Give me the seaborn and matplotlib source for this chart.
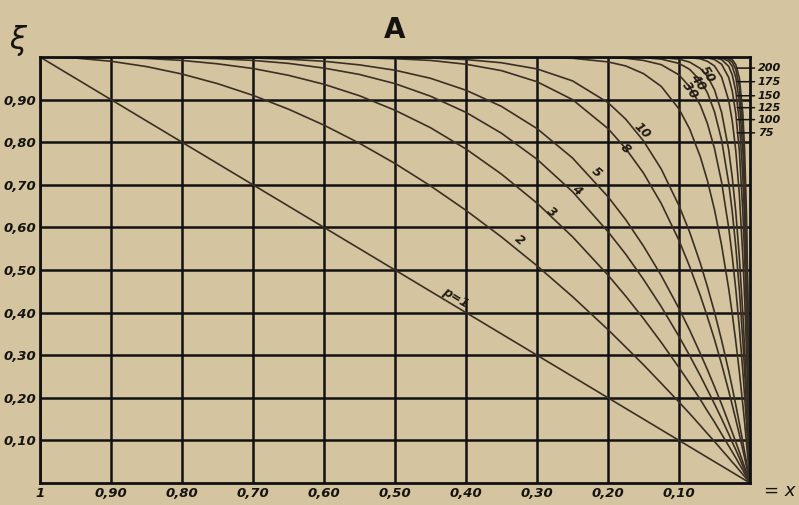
import matplotlib
matplotlib.use("Agg")
import matplotlib.pyplot as plt
import pandas as pd
import seaborn as sns

# x values read along the (reversed) horizontal axis
xs = [1.00, 0.95, 0.90, 0.85, 0.80, 0.75, 0.70, 0.65, 0.60, 0.55, 0.50, 0.45, 0.40, 0.35,
      0.30, 0.25, 0.20, 0.175, 0.15, 0.125, 0.10, 0.085, 0.07, 0.06, 0.05, 0.04, 0.03,
      0.025, 0.02, 0.015, 0.01, 0.0075, 0.005, 0.003, 0.002, 0.001, 0.00]

# xi at the xs above
p1 = list(xs)
p2 = [1.0, 0.9975, 0.99, 0.9775, 0.96, 0.9375, 0.91, 0.8775, 0.84, 0.7975, 0.75, 0.6975,
      0.64, 0.5775, 0.51, 0.4375, 0.36, 0.319, 0.2775, 0.234, 0.19, 0.163, 0.135, 0.116,
      0.0975, 0.078, 0.059, 0.049, 0.040, 0.030, 0.020, 0.015, 0.010, 0.006, 0.004, 0.002, 0.0]
p3 = [1.0, 1.0, 0.999, 0.9966, 0.992, 0.984, 0.973, 0.957, 0.936, 0.909, 0.875, 0.834,
      0.784, 0.725, 0.657, 0.578, 0.488, 0.4385, 0.386, 0.330, 0.271, 0.234, 0.196, 0.169,
      0.143, 0.115, 0.087, 0.073, 0.059, 0.044, 0.030, 0.022, 0.015, 0.009, 0.006, 0.003, 0.0]
p4 = [1.0, 1.0, 1.0, 0.9995, 0.998, 0.996, 0.992, 0.985, 0.974, 0.959, 0.9375, 0.908,
      0.870, 0.821, 0.760, 0.684, 0.590, 0.537, 0.478, 0.414, 0.344, 0.299, 0.252, 0.219,
      0.1855, 0.151, 0.115, 0.096, 0.078, 0.059, 0.039, 0.030, 0.020, 0.012, 0.008, 0.004, 0.0]
p5 = [1.0, 1.0, 1.0, 1.0, 0.9997, 0.999, 0.9976, 0.9947, 0.990, 0.9815, 0.969, 0.950,
      0.922, 0.884, 0.832, 0.763, 0.672, 0.618, 0.556, 0.487, 0.4095, 0.359, 0.304, 0.266,
      0.226, 0.185, 0.141, 0.119, 0.096, 0.073, 0.049, 0.037, 0.025, 0.015, 0.010, 0.005, 0.0]
p8 = [1.0] * 6 + [1.0, 0.9998, 0.9993, 0.998, 0.996, 0.992, 0.983, 0.968, 0.942, 0.900,
                  0.832, 0.785, 0.7275, 0.656, 0.5695, 0.508, 0.440, 0.390, 0.337, 0.279,
                  0.216, 0.183, 0.149, 0.114, 0.077, 0.0585, 0.039, 0.024, 0.016, 0.008, 0.0]
p10 = [1.0] * 8 + [1.0, 1.0, 0.999, 0.9975, 0.994, 0.9865, 0.972, 0.944, 0.893, 0.854,
                   0.803, 0.737, 0.651, 0.589, 0.516, 0.461, 0.401, 0.335, 0.263, 0.224,
                   0.183, 0.140, 0.096, 0.072, 0.049, 0.030, 0.020, 0.010, 0.0]
p20 = [1.0] * 14 + [0.999, 0.997, 0.9885, 0.979, 0.961, 0.931, 0.878, 0.831, 0.766, 0.710,
                    0.6415, 0.558, 0.456, 0.397, 0.332, 0.261, 0.182, 0.140, 0.095, 0.058,
                    0.039, 0.020, 0.0]
p30 = [1.0] * 16 + [0.9988, 0.997, 0.992, 0.982, 0.958, 0.930, 0.887, 0.844, 0.785, 0.706,
                    0.599, 0.532, 0.4545, 0.3645, 0.260, 0.202, 0.140, 0.086, 0.058, 0.030, 0.0]
p40 = [1.0] * 18 + [0.9985, 0.995, 0.985, 0.971, 0.945, 0.916, 0.8715, 0.805, 0.704, 0.637,
                    0.554, 0.454, 0.331, 0.260, 0.182, 0.113, 0.077, 0.039, 0.0]
p50 = [1.0] * 19 + [0.9987, 0.995, 0.988, 0.973, 0.955, 0.923, 0.870, 0.782, 0.718, 0.636,
                    0.530, 0.395, 0.3135, 0.222, 0.139, 0.095, 0.049, 0.0]
p75 = [1.0] * 20 + [0.9996, 0.9987, 0.9957, 0.990, 0.979, 0.953, 0.898, 0.850, 0.780, 0.678,
                    0.529, 0.431, 0.313, 0.2015, 0.139, 0.072, 0.0]
p100 = [1.0] * 22 + [0.9993, 0.998, 0.994, 0.983, 0.952, 0.920, 0.867, 0.779, 0.634, 0.529,
                     0.394, 0.259, 0.181, 0.095, 0.0]
p125 = [1.0] * 24 + [0.998, 0.994, 0.978, 0.958, 0.920, 0.849, 0.715, 0.610, 0.465, 0.313,
                     0.221, 0.1175, 0.0]
p150 = [1.0] * 24 + [0.9995, 0.998, 0.990, 0.978, 0.952, 0.896, 0.7785, 0.677, 0.5285, 0.363,
                     0.259, 0.139, 0.0]
p175 = [1.0] * 25 + [0.9992, 0.995, 0.988, 0.971, 0.929, 0.828, 0.732, 0.584, 0.409, 0.2955,
                     0.1606, 0.0]
p200 = [1.0] * 25 + [0.9997, 0.9977, 0.994, 0.982, 0.951, 0.866, 0.778, 0.633, 0.452, 0.330,
                     0.181, 0.0]

curves = {1: p1, 2: p2, 3: p3, 4: p4, 5: p5, 8: p8, 10: p10, 20: p20, 30: p30,
          40: p40, 50: p50, 75: p75, 100: p100, 125: p125, 150: p150, 175: p175, 200: p200}

xticks = [1.0, 0.9, 0.8, 0.7, 0.6, 0.5, 0.4, 0.3, 0.2, 0.1]
xtick_labels = ["1", "0,90", "0,80", "0,70", "0,60", "0,50", "0,40", "0,30", "0,20", "0,10"]
yticks = [0.1, 0.2, 0.3, 0.4, 0.5, 0.6, 0.7, 0.8, 0.9]
ytick_labels = ["0,10", "0,20", "0,30", "0,40", "0,50", "0,60", "0,70", "0,80", "0,90"]

rows = []
for p, ys in curves.items():
    for x, y in zip(xs, ys):
        rows.append((x, y, p))
df = pd.DataFrame(rows, columns=["x", "xi", "p"])

paper = "#d4c49f"
ink = "#3a2f24"

sns.set_theme(style="white", rc={"figure.facecolor": paper, "axes.facecolor": paper})
plt.rcParams["font.family"] = ["DejaVu Sans"]

fig = plt.figure(figsize=(7.99, 5.05), dpi=100)
ax = fig.add_axes([40 / 799, 1 - 483 / 505, 710 / 799, 426 / 505])

sns.lineplot(data=df, x="x", y="xi", units="p", estimator=None, sort=False,
             color=ink, linewidth=1.2, ax=ax)

ax.set_xlim(1, 0)
ax.set_ylim(0, 1)
ax.set_xticks(xticks)
ax.set_xticklabels(xtick_labels)
ax.set_yticks(yticks)
ax.set_yticklabels(ytick_labels)
ax.set_xlabel("")
ax.set_ylabel("")
ax.tick_params(length=0, pad=3, labelsize=9.5)
for lab in ax.get_xticklabels() + ax.get_yticklabels():
    lab.set_fontstyle("italic")
    lab.set_fontweight("bold")
    lab.set_color("#151310")
ax.grid(True, color="#111111", linewidth=1.8)
for s in ax.spines.values():
    s.set_color("#111111")
    s.set_linewidth(2)

# curve labels placed on the curves
lab_kw = dict(fontsize=9, fontstyle="italic", fontweight="bold", color="#201a14",
              ha="center", va="center")
curve_labels = [("p=1", 0.415, 0.434, -31), ("2", 0.324, 0.570, -40), ("3", 0.279, 0.636, -40),
                ("4", 0.244, 0.688, -40), ("5", 0.217, 0.730, -42), ("8", 0.175, 0.786, -45),
                ("10", 0.152, 0.826, -45), ("30", 0.0845, 0.923, -55), ("40", 0.073, 0.941, -55),
                ("50", 0.0606, 0.958, -58)]
for txt, x, y, rot in curve_labels:
    ax.text(x, y, txt, rotation=rot, **lab_kw)

# right-hand labels with leader lines
right_labels = [("200", 0.974), ("175", 0.942), ("150", 0.909), ("125", 0.881),
                ("100", 0.853), ("75", 0.822)]
for txt, y in right_labels:
    ax.annotate(txt, xy=(0.018, y), xytext=(-0.011, y), textcoords="data",
                fontsize=8, fontstyle="italic", fontweight="bold", color="#151310",
                ha="left", va="center", annotation_clip=False,
                arrowprops=dict(arrowstyle="-", color="#151310", lw=1.1,
                                shrinkA=0, shrinkB=0))

fig.text(395 / 799, 1 - 30 / 505, "A", fontsize=20, fontweight="bold",
         ha="center", va="center", color="#151310")
fig.text(18 / 799, 1 - 40 / 505, "ξ", fontsize=22, ha="center", va="center",
         color="#151310", fontstyle="italic")
fig.text(780 / 799, 1 - 491 / 505, "= x", fontsize=13, fontstyle="italic",
         ha="center", va="center", color="#151310")

fig.savefig("out.png", dpi=100, facecolor=paper)
